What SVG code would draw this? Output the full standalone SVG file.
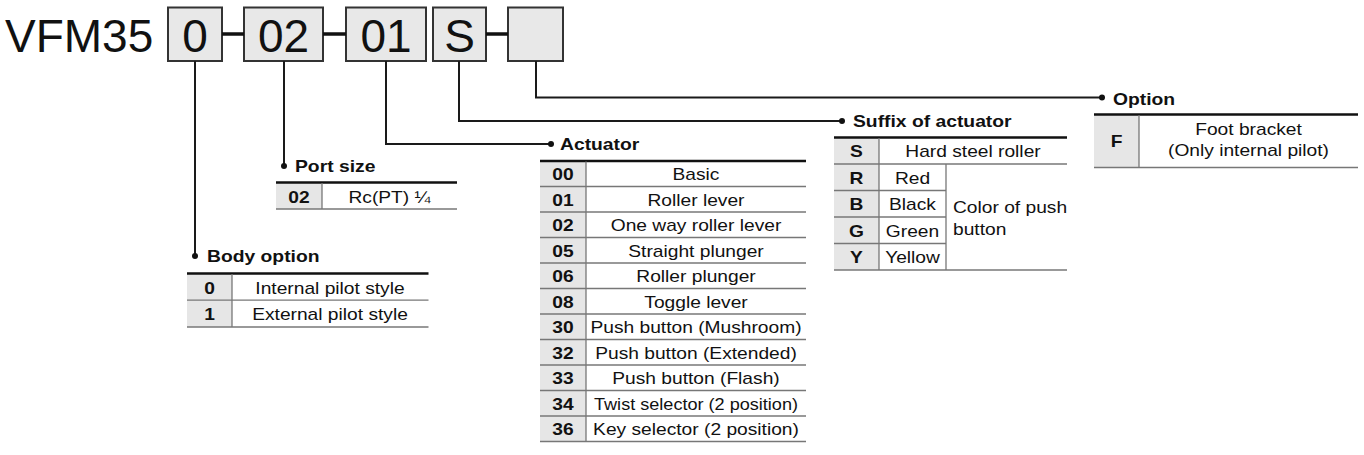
<svg xmlns="http://www.w3.org/2000/svg" width="1364" height="455" viewBox="0 0 1364 455">
<style>
text{font-family:"Liberation Sans",Arial,sans-serif;fill:#111}
.big{font-size:46px}
.box{fill:#e8e8e8;stroke:#333;stroke-width:2}
.join{stroke:#111;stroke-width:3.5}
.wire{fill:none;stroke:#1a1a1a;stroke-width:2}
.dot{fill:#111}
.lbl{font-size:16.5px;font-weight:bold}
.t{font-size:16px;text-anchor:middle}
.tl{font-size:16px}
.c{font-size:16px;font-weight:bold;text-anchor:middle}
.top{stroke:#111;stroke-width:2.5}
.rule{stroke:#777;stroke-width:1.3}
.code{fill:#e6e6e6}
</style>
<rect width="1364" height="455" fill="#fff"/>

<g id="model">
<text class="big" x="5" y="52">VFM35</text>
</g>
<g id="field-body"><rect class="box" x="168" y="7.5" width="54" height="53.5"/><text class="big" x="195" y="52" text-anchor="middle">0</text></g>
<g id="field-port"><rect class="box" x="244" y="7.5" width="79" height="53.5"/><text class="big" x="283.5" y="52" text-anchor="middle">02</text></g>
<g id="field-actuator"><rect class="box" x="346" y="7.5" width="80" height="53.5"/><text class="big" x="386" y="52" text-anchor="middle">01</text></g>
<g id="field-suffix"><rect class="box" x="433" y="7.5" width="53" height="53.5"/><text class="big" x="459.5" y="52" text-anchor="middle">S</text></g>
<g id="field-option"><rect class="box" x="508" y="7.5" width="55" height="53.5"/></g>

<g id="connectors">
<line class="join" x1="222" y1="34" x2="244" y2="34"/>
<line class="join" x1="323" y1="34" x2="346" y2="34"/>
<line class="join" x1="486" y1="34" x2="508" y2="34"/>
<polyline class="wire" points="195,61 195,256"/>
<circle class="dot" cx="195" cy="256" r="3"/>
<polyline class="wire" points="284,61 284,166"/>
<circle class="dot" cx="284" cy="166" r="3"/>
<polyline class="wire" points="386,61 386,144 551,144"/>
<circle class="dot" cx="551" cy="144" r="3"/>
<polyline class="wire" points="459,61 459,121 842,121"/>
<circle class="dot" cx="842" cy="121" r="3"/>
<polyline class="wire" points="536,61 536,97.5 1102,97.5"/>
<circle class="dot" cx="1102" cy="97.5" r="3"/>
</g>

<g id="port-size">
<text class="lbl" transform="translate(295,172) scale(1.17,1)">Port size</text>
<rect class="code" x="276" y="182.5" width="46" height="26.5"/>
<line class="top" x1="276" y1="182.5" x2="457" y2="182.5"/>
<line class="rule" x1="276" y1="209" x2="457" y2="209"/>
<line class="rule" x1="322" y1="183" x2="322" y2="209"/>
<text class="c" transform="translate(299,203) scale(1.2,1)">02</text>
<text class="t" transform="translate(389.5,203) scale(1.2,1)">Rc(PT) ¼</text>
</g>

<g id="body-option">
<text class="lbl" transform="translate(207,262) scale(1.17,1)">Body option</text>
<rect class="code" x="187" y="273.5" width="45" height="53.5"/>
<line class="top" x1="187" y1="273.5" x2="428.5" y2="273.5"/>
<line class="rule" x1="187" y1="300.2" x2="428.5" y2="300.2"/>
<line class="rule" x1="187" y1="327" x2="428.5" y2="327"/>
<line class="rule" x1="232" y1="274" x2="232" y2="327"/>
<text class="c" transform="translate(209.5,293.5) scale(1.2,1)">0</text>
<text class="t" transform="translate(330,293.5) scale(1.2,1)">Internal pilot style</text>
<text class="c" transform="translate(209.5,320.2) scale(1.2,1)">1</text>
<text class="t" transform="translate(330,320.2) scale(1.2,1)">External pilot style</text>
</g>

<g id="actuator">
<text class="lbl" transform="translate(560,150) scale(1.17,1)">Actuator</text>
<rect class="code" x="540" y="161" width="46" height="280.5"/>
<line class="top" x1="540" y1="161" x2="806" y2="161"/>
<g class="rule">
<line x1="540" y1="186.5" x2="806" y2="186.5"/>
<line x1="540" y1="212" x2="806" y2="212"/>
<line x1="540" y1="237.5" x2="806" y2="237.5"/>
<line x1="540" y1="263" x2="806" y2="263"/>
<line x1="540" y1="288.5" x2="806" y2="288.5"/>
<line x1="540" y1="314" x2="806" y2="314"/>
<line x1="540" y1="339.5" x2="806" y2="339.5"/>
<line x1="540" y1="365" x2="806" y2="365"/>
<line x1="540" y1="390.5" x2="806" y2="390.5"/>
<line x1="540" y1="416" x2="806" y2="416"/>
<line x1="540" y1="441.5" x2="806" y2="441.5"/>
<line x1="586" y1="161.5" x2="586" y2="441.5"/>
</g>
<text class="c" transform="translate(563,180) scale(1.2,1)">00</text>
<text class="t" transform="translate(696,180) scale(1.2,1)">Basic</text>
<text class="c" transform="translate(563,205.5) scale(1.2,1)">01</text>
<text class="t" transform="translate(696,205.5) scale(1.2,1)">Roller lever</text>
<text class="c" transform="translate(563,231) scale(1.2,1)">02</text>
<text class="t" transform="translate(696,231) scale(1.2,1)">One way roller lever</text>
<text class="c" transform="translate(563,256.5) scale(1.2,1)">05</text>
<text class="t" transform="translate(696,256.5) scale(1.2,1)">Straight plunger</text>
<text class="c" transform="translate(563,282) scale(1.2,1)">06</text>
<text class="t" transform="translate(696,282) scale(1.2,1)">Roller plunger</text>
<text class="c" transform="translate(563,307.5) scale(1.2,1)">08</text>
<text class="t" transform="translate(696,307.5) scale(1.2,1)">Toggle lever</text>
<text class="c" transform="translate(563,333) scale(1.2,1)">30</text>
<text class="t" transform="translate(696,333) scale(1.2,1)">Push button (Mushroom)</text>
<text class="c" transform="translate(563,358.5) scale(1.2,1)">32</text>
<text class="t" transform="translate(696,358.5) scale(1.2,1)">Push button (Extended)</text>
<text class="c" transform="translate(563,384) scale(1.2,1)">33</text>
<text class="t" transform="translate(696,384) scale(1.2,1)">Push button (Flash)</text>
<text class="c" transform="translate(563,409.5) scale(1.2,1)">34</text>
<text class="t" transform="translate(696,409.5) scale(1.2,1)" textLength="170" lengthAdjust="spacingAndGlyphs">Twist selector (2 position)</text>
<text class="c" transform="translate(563,435) scale(1.2,1)">36</text>
<text class="t" transform="translate(696,435) scale(1.2,1)">Key selector (2 position)</text>
</g>

<g id="suffix">
<text class="lbl" transform="translate(853,127) scale(1.17,1)">Suffix of actuator</text>
<rect class="code" x="834" y="137.5" width="45" height="132.5"/>
<line class="top" x1="834" y1="137.5" x2="1067" y2="137.5"/>
<g class="rule">
<line x1="834" y1="164" x2="1067" y2="164"/>
<line x1="834" y1="190.5" x2="946" y2="190.5"/>
<line x1="834" y1="217" x2="946" y2="217"/>
<line x1="834" y1="243.5" x2="946" y2="243.5"/>
<line x1="834" y1="270" x2="1067" y2="270"/>
<line x1="879" y1="138" x2="879" y2="270"/>
<line x1="946" y1="164" x2="946" y2="270"/>
</g>
<text class="c" transform="translate(856.5,157) scale(1.2,1)">S</text>
<text class="t" transform="translate(973,157) scale(1.2,1)">Hard steel roller</text>
<text class="c" transform="translate(856.5,183.5) scale(1.2,1)">R</text>
<text class="t" transform="translate(912.5,183.5) scale(1.2,1)">Red</text>
<text class="c" transform="translate(856.5,210) scale(1.2,1)">B</text>
<text class="t" transform="translate(912.5,210) scale(1.2,1)">Black</text>
<text class="c" transform="translate(856.5,236.5) scale(1.2,1)">G</text>
<text class="t" transform="translate(912.5,236.5) scale(1.2,1)">Green</text>
<text class="c" transform="translate(856.5,263) scale(1.2,1)">Y</text>
<text class="t" transform="translate(912.5,263) scale(1.2,1)">Yellow</text>
<text class="tl" transform="translate(953,213) scale(1.2,1)">Color of push</text>
<text class="tl" transform="translate(953,235) scale(1.2,1)">button</text>
</g>

<g id="option">
<text class="lbl" transform="translate(1113,105) scale(1.17,1)">Option</text>
<rect class="code" x="1094" y="114.5" width="45" height="53"/>
<line class="top" x1="1094" y1="114.5" x2="1358" y2="114.5"/>
<line class="rule" x1="1094" y1="167.5" x2="1358" y2="167.5"/>
<line class="rule" x1="1139" y1="115" x2="1139" y2="167.5"/>
<text class="c" transform="translate(1116.5,147) scale(1.2,1)">F</text>
<text class="t" transform="translate(1248.5,135) scale(1.2,1)">Foot bracket</text>
<text class="t" transform="translate(1248.5,156) scale(1.2,1)">(Only internal pilot)</text>
</g>
</svg>
